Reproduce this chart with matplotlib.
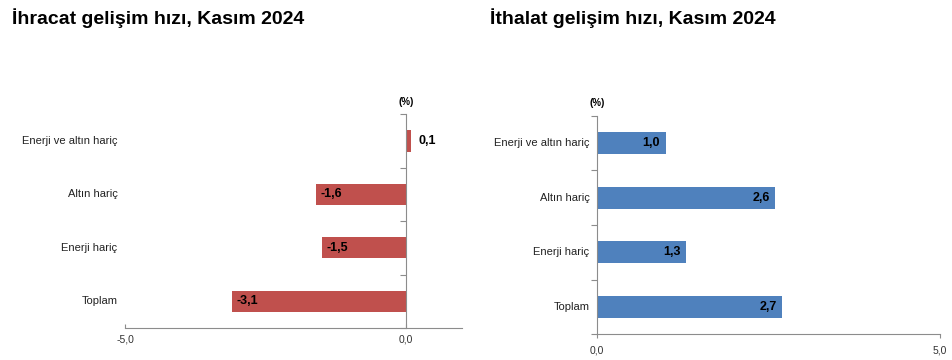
import numpy as np
import matplotlib.pyplot as plt
from matplotlib.ticker import FixedLocator

# data
categories = ['Toplam', 'Enerji hariç', 'Altın hariç', 'Enerji ve altın hariç']
ihracat = [-3.1, -1.5, -1.6, 0.1]
ithalat = [2.7, 1.3, 2.6, 1.0]

titles = ['İhracat gelişim hızı, Kasım 2024', 'İthalat gelişim hızı, Kasım 2024']
red = '#C0504D'
blue = '#4F81BD'
grey = '#8C8C8C'

plt.rcParams['font.family'] = ['Liberation Sans', 'DejaVu Sans']

fig = plt.figure(figsize=(9.53, 3.6), dpi=100)
ax1 = fig.add_axes([0.1312, 0.0889, 0.3536, 0.594])
ax2 = fig.add_axes([0.6264, 0.0722, 0.3599, 0.6056])


def fmt(v):
    return ('%.1f' % v).replace('.', ',')


def style(ax, xlim, xticks, xdir):
    y = np.arange(len(categories))
    ax.set_xlim(*xlim)
    ax.set_ylim(-0.5, len(categories) - 0.5)
    for s in ['top', 'right']:
        ax.spines[s].set_visible(False)
    ax.spines['left'].set_position(('data', 0))
    ax.spines['left'].set_color(grey)
    ax.spines['bottom'].set_color(grey)
    ax.set_yticks(y)
    ax.set_yticklabels([''] * len(y))
    ax.tick_params(axis='y', which='major', length=0)
    ax.yaxis.set_minor_locator(FixedLocator(np.arange(-0.5, len(categories), 1.0)))
    ax.tick_params(axis='y', which='minor', length=4, color=grey, width=0.8)
    ax.set_xticks(xticks)
    ax.set_xticklabels([fmt(t) for t in xticks], fontsize=7.5, color='#333333')
    ax.tick_params(axis='x', length=3, color=grey, width=0.8, pad=5, direction=xdir)
    for yi, c in zip(y, categories):
        ax.text(-0.022, yi, c, transform=ax.get_yaxis_transform(),
                ha='right', va='center', fontsize=8, color='#222222')


# left: ihracat
y = np.arange(len(categories))
ax1.barh(y, ihracat, height=0.4, color=red)
style(ax1, (-5, 1.0), [-5, 0], 'in')
for yi, v in zip(y, ihracat):
    if v < 0:
        ax1.text(v + 0.08, yi, fmt(v), ha='left', va='center', fontsize=9, fontweight='bold')
    else:
        ax1.text(v + 0.12, yi, fmt(v), ha='left', va='center', fontsize=9, fontweight='bold')
ax1.text(0, 1.035, '(%)', transform=ax1.get_xaxis_transform(), ha='center', va='bottom',
         fontsize=7, fontweight='bold')

# right: ithalat
ax2.barh(y, ithalat, height=0.4, color=blue)
style(ax2, (0, 5), [0, 5], 'out')
for yi, v in zip(y, ithalat):
    ax2.text(v - 0.08, yi, fmt(v), ha='right', va='center', fontsize=9, fontweight='bold')
ax2.text(0, 1.035, '(%)', transform=ax2.get_xaxis_transform(), ha='center', va='bottom',
         fontsize=7, fontweight='bold')

fig.text(12 / 953, 1 - 18 / 360, titles[0], ha='left', va='center', fontsize=14, fontweight='bold')
fig.text(490 / 953, 1 - 18 / 360, titles[1], ha='left', va='center', fontsize=14, fontweight='bold')

fig.savefig('out.png', dpi=100)
